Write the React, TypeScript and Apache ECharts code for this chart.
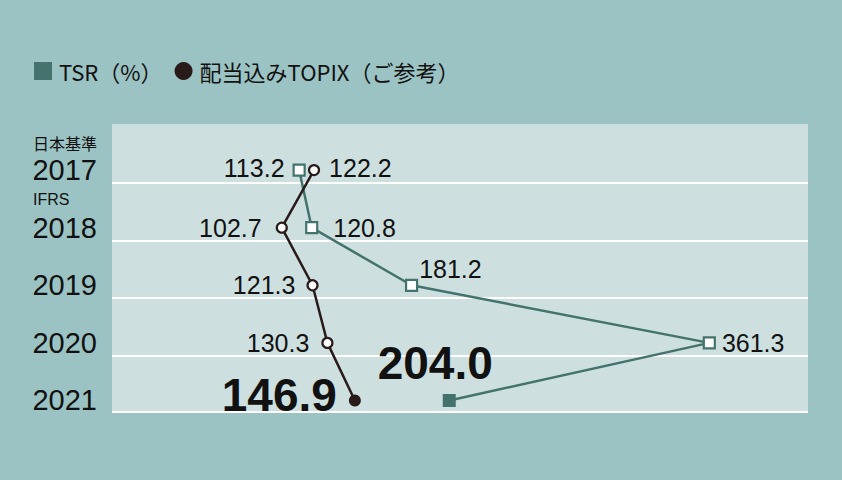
import { useEffect, useRef } from "react";
import * as echarts from "echarts";

const years = [2017, 2018, 2019, 2020, 2021];
const tsrValues = [113.2, 120.8, 181.2, 361.3, 204.0];
const topixValues = [122.2, 102.7, 121.3, 130.3, 146.9];
const yearNotes = ["日本基準", "IFRS", "", "", ""];

const TEAL = "#44736d";
const DARK = "#2a1b1b";
const NUM_FONT = "'Liberation Sans', Arial, sans-serif";
const JP_FONT = "'Noto Sans CJK JP', 'Noto Sans', sans-serif";

// label placement per point (style only)
const tsrLabelPos: any[] = [
  { position: "left", distance: 8, offset: [0, -2] },
  { position: "right", distance: 15 },
  { position: "right", distance: 1, offset: [0, -16] },
  { position: "right", distance: 6 },
  { position: "top", distance: 4, offset: [-14, -4], big: true },
];
const topixLabelPos: any[] = [
  { position: "right", distance: 9, offset: [0, -2] },
  { position: "left", distance: 14 },
  { position: "left", distance: 11 },
  { position: "left", distance: 12 },
  { position: "left", distance: 12, offset: [0, -5], big: true },
];

const buildPoints = (values: number[], pos: any[], color: string, square: boolean) =>
  values.map((v, i) => {
    const last = i === values.length - 1;
    const p = pos[i];
    return {
      value: [v, years[i]],
      symbolSize: last ? (square ? 13 : 12) : square ? 11 : 10,
      itemStyle: last
        ? { color, borderColor: color, borderWidth: 0 }
        : { color: "#ffffff", borderColor: color, borderWidth: 2.2 },
      label: {
        show: true,
        position: p.position,
        distance: p.distance,
        offset: p.offset ?? [0, 0],
        formatter: () => v.toFixed(1),
        color: "#111",
        fontFamily: NUM_FONT,
        fontSize: p.big ? 46 : 25,
        fontWeight: p.big ? "bold" : "normal",
      },
    };
  });

export default function App() {
  const ref = useRef<HTMLDivElement | null>(null);

  useEffect(() => {
    document.body.style.margin = "0";
    if (!ref.current) return;
    const chart = echarts.init(ref.current, undefined, { renderer: "svg" });

    const gridLines = years.slice(0, -1).map((y) => ({ yAxis: y + 0.22 }));
    gridLines.push({ yAxis: 2021.2 });

    chart.setOption({
      animation: false,
      backgroundColor: "#9cc3c3",
      legend: {
        left: 34,
        top: 60,
        padding: 0,
        itemWidth: 18,
        itemHeight: 18,
        itemGap: 12,
        textStyle: { fontSize: 22, fontFamily: JP_FONT, color: "#111", padding: [0, 0, 0, 2] },
        data: [
          { name: "TSR（%）", icon: "rect" },
          { name: "配当込みTOPIX（ご参考）", icon: "circle" },
        ],
      },
      grid: {
        left: 112,
        right: 34,
        top: 124,
        bottom: 68,
        show: true,
        backgroundColor: "#cde0df",
        borderWidth: 0,
      },
      xAxis: {
        type: "value",
        min: 0,
        max: 421,
        show: false,
      },
      yAxis: {
        type: "value",
        inverse: true,
        min: 2016.2,
        max: 2021.2,
        axisLine: { show: false },
        axisTick: { show: false },
        splitLine: { show: false },
        axisLabel: {
          customValues: years,
          formatter: (v: number) => String(v),
          color: "#111",
          fontFamily: NUM_FONT,
          fontSize: 29,
          margin: 15,
        },
      },
      graphic: yearNotes
        .map((note, i) =>
          note
            ? {
                type: "text",
                left: 33,
                top: 135 + i * 57.7 - (i === 1 ? 1 : 0),
                style: {
                  text: note,
                  fontSize: note === "IFRS" ? 16 : 16,
                  fontFamily: note === "IFRS" ? NUM_FONT : JP_FONT,
                  fill: "#111",
                },
              }
            : null
        )
        .filter(Boolean),
      series: [
        {
          name: "TSR（%）",
          type: "line",
          symbol: "rect",
          itemStyle: { color: TEAL },
          lineStyle: { color: TEAL, width: 2.5 },
          data: buildPoints(tsrValues, tsrLabelPos, TEAL, true),
          z: 3,
          markLine: {
            silent: true,
            symbol: "none",
            label: { show: false },
            lineStyle: { color: "#ffffff", width: 2, type: "solid" },
            data: gridLines,
            z: 1,
          },
        },
        {
          name: "配当込みTOPIX（ご参考）",
          type: "line",
          symbol: "circle",
          itemStyle: { color: DARK },
          lineStyle: { color: DARK, width: 2.5 },
          data: buildPoints(topixValues, topixLabelPos, DARK, false),
          z: 4,
        },
      ],
    });

    return () => chart.dispose();
  }, []);

  return <div ref={ref} style={{ width: 842, height: 480 }} />;
}
